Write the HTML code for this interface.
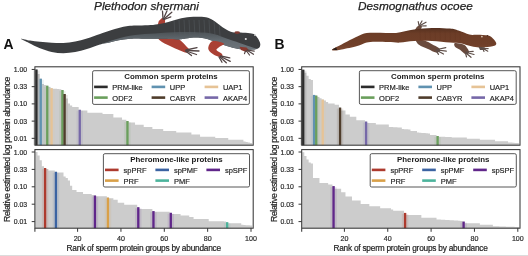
<!DOCTYPE html>
<html><head><meta charset="utf-8"><style>
html,body{margin:0;padding:0;background:#fff;width:528px;height:256px;overflow:hidden;}
svg{display:block;filter:blur(0.5px);font-family:"Liberation Sans",sans-serif;}
</style></head><body><svg width="528" height="256" viewBox="0 0 528 256" font-family="Liberation Sans, sans-serif"><path d="M35.33,145.20 L35.33,69.50 L37.50,69.50 L37.50,74.00 L39.67,74.00 L39.67,78.70 L41.84,78.70 L41.84,84.00 L44.00,84.00 L44.00,85.00 L46.17,85.00 L46.17,85.70 L48.34,85.70 L48.34,87.10 L50.51,87.10 L50.51,88.20 L52.67,88.20 L52.67,88.70 L54.84,88.70 L54.84,88.87 L57.01,88.87 L57.01,89.03 L59.18,89.03 L59.18,89.20 L61.34,89.20 L61.34,90.00 L63.51,90.00 L63.51,94.00 L65.68,94.00 L65.68,98.50 L67.85,98.50 L67.85,103.40 L70.01,103.40 L70.01,105.50 L72.18,105.50 L72.18,107.10 L74.35,107.10 L74.35,107.10 L76.52,107.10 L76.52,107.10 L78.68,107.10 L78.68,109.80 L80.85,109.80 L80.85,110.60 L83.02,110.60 L83.02,110.60 L85.19,110.60 L85.19,110.60 L87.35,110.60 L87.35,112.70 L89.52,112.70 L89.52,112.70 L91.69,112.70 L91.69,112.70 L93.86,112.70 L93.86,112.70 L96.02,112.70 L96.02,112.70 L98.19,112.70 L98.19,112.70 L100.36,112.70 L100.36,112.70 L102.53,112.70 L102.53,114.10 L104.69,114.10 L104.69,114.10 L106.86,114.10 L106.86,114.10 L109.03,114.10 L109.03,114.10 L111.20,114.10 L111.20,114.10 L113.36,114.10 L113.36,117.60 L115.53,117.60 L115.53,117.60 L117.70,117.60 L117.70,117.60 L119.87,117.60 L119.87,117.60 L122.03,117.60 L122.03,119.80 L124.20,119.80 L124.20,119.80 L126.37,119.80 L126.37,121.00 L128.54,121.00 L128.54,122.40 L130.70,122.40 L130.70,122.40 L132.87,122.40 L132.87,122.40 L135.04,122.40 L135.04,124.80 L137.21,124.80 L137.21,124.80 L139.37,124.80 L139.37,124.80 L141.54,124.80 L141.54,124.80 L143.71,124.80 L143.71,126.90 L145.88,126.90 L145.88,126.90 L148.04,126.90 L148.04,126.90 L150.21,126.90 L150.21,126.90 L152.38,126.90 L152.38,129.00 L154.55,129.00 L154.55,129.00 L156.71,129.00 L156.71,129.00 L158.88,129.00 L158.88,129.00 L161.05,129.00 L161.05,129.00 L163.22,129.00 L163.22,131.10 L165.38,131.10 L165.38,131.10 L167.55,131.10 L167.55,131.10 L169.72,131.10 L169.72,131.10 L171.89,131.10 L171.89,131.10 L174.05,131.10 L174.05,131.10 L176.22,131.10 L176.22,132.50 L178.39,132.50 L178.39,132.50 L180.56,132.50 L180.56,132.50 L182.72,132.50 L182.72,132.50 L184.89,132.50 L184.89,132.50 L187.06,132.50 L187.06,132.50 L189.23,132.50 L189.23,132.50 L191.39,132.50 L191.39,134.60 L193.56,134.60 L193.56,134.60 L195.73,134.60 L195.73,134.60 L197.90,134.60 L197.90,134.60 L200.06,134.60 L200.06,136.70 L202.23,136.70 L202.23,136.70 L204.40,136.70 L204.40,136.70 L206.57,136.70 L206.57,136.70 L208.73,136.70 L208.73,136.70 L210.90,136.70 L210.90,136.70 L213.07,136.70 L213.07,136.70 L215.24,136.70 L215.24,138.10 L217.40,138.10 L217.40,138.10 L219.57,138.10 L219.57,138.10 L221.74,138.10 L221.74,138.10 L223.91,138.10 L223.91,138.10 L226.07,138.10 L226.07,138.10 L228.24,138.10 L228.24,139.80 L230.41,139.80 L230.41,139.80 L232.58,139.80 L232.58,139.80 L234.74,139.80 L234.74,139.80 L236.91,139.80 L236.91,139.80 L239.08,139.80 L239.08,139.80 L241.25,139.80 L241.25,139.80 L243.41,139.80 L243.41,141.60 L245.58,141.60 L245.58,142.05 L247.75,142.05 L247.75,142.50 L249.92,142.50 L249.92,143.00 L252.08,143.00 L252.08,145.20 Z" fill="#cccccc"/><rect x="33.22" y="70.50" width="6.4" height="74.70" fill="#2c2c2c" opacity="0.12"/><rect x="37.55" y="79.70" width="6.4" height="65.50" fill="#6092b0" opacity="0.12"/><rect x="44.05" y="86.70" width="6.4" height="58.50" fill="#6a9f5c" opacity="0.12"/><rect x="48.39" y="89.20" width="6.4" height="56.00" fill="#e6c396" opacity="0.12"/><rect x="59.23" y="91.00" width="6.4" height="54.20" fill="#6a9f5c" opacity="0.12"/><rect x="61.39" y="95.00" width="6.4" height="50.20" fill="#4f3d2c" opacity="0.12"/><rect x="76.57" y="110.80" width="6.4" height="34.40" fill="#7668a8" opacity="0.12"/><rect x="124.25" y="122.00" width="6.4" height="23.20" fill="#6a9f5c" opacity="0.12"/><rect x="35.27" y="69.50" width="2.30" height="75.70" fill="#2c2c2c"/><rect x="39.60" y="78.70" width="2.30" height="66.50" fill="#6092b0"/><rect x="46.10" y="85.70" width="2.30" height="59.50" fill="#6a9f5c"/><rect x="50.44" y="88.20" width="2.30" height="57.00" fill="#e6c396"/><rect x="61.28" y="90.00" width="2.30" height="55.20" fill="#6a9f5c"/><rect x="63.45" y="94.00" width="2.30" height="51.20" fill="#4f3d2c"/><rect x="78.62" y="109.80" width="2.30" height="35.40" fill="#7668a8"/><rect x="126.30" y="121.00" width="2.30" height="24.20" fill="#6a9f5c"/><rect x="34.90" y="66.80" width="218.30" height="78.40" fill="none" stroke="#363636" stroke-width="1.05"/><line x1="31.70" y1="69.45" x2="34.90" y2="69.45" stroke="#363636" stroke-width="1"/><text x="27.10" y="71.95" font-size="6.9" text-anchor="end" fill="#2a2a2a" stroke="#2a2a2a" stroke-width="0.18">1.00</text><line x1="31.70" y1="86.67" x2="34.90" y2="86.67" stroke="#363636" stroke-width="1"/><text x="27.10" y="89.17" font-size="6.9" text-anchor="end" fill="#2a2a2a" stroke="#2a2a2a" stroke-width="0.18">0.33</text><line x1="31.70" y1="103.89" x2="34.90" y2="103.89" stroke="#363636" stroke-width="1"/><text x="27.10" y="106.39" font-size="6.9" text-anchor="end" fill="#2a2a2a" stroke="#2a2a2a" stroke-width="0.18">0.10</text><line x1="31.70" y1="121.11" x2="34.90" y2="121.11" stroke="#363636" stroke-width="1"/><text x="27.10" y="123.61" font-size="6.9" text-anchor="end" fill="#2a2a2a" stroke="#2a2a2a" stroke-width="0.18">0.03</text><line x1="31.70" y1="138.33" x2="34.90" y2="138.33" stroke="#363636" stroke-width="1"/><text x="27.10" y="140.83" font-size="6.9" text-anchor="end" fill="#2a2a2a" stroke="#2a2a2a" stroke-width="0.18">0.01</text><rect x="92.60" y="70.70" width="156.80" height="33.70" rx="1.5" fill="#fff" stroke="#444" stroke-width="0.9"/><text x="171.00" y="79.40" font-size="7.9" font-weight="bold" text-anchor="middle" fill="#1a1a1a">Common sperm proteins</text><line x1="94.10" y1="86.90" x2="107.70" y2="86.90" stroke="#2c2c2c" stroke-width="2.6"/><text x="112.30" y="89.80" font-size="7.5" fill="#262626" stroke="#262626" stroke-width="0.18">PRM-like</text><line x1="94.10" y1="97.60" x2="107.70" y2="97.60" stroke="#6a9f5c" stroke-width="2.6"/><text x="112.30" y="100.50" font-size="7.5" fill="#262626" stroke="#262626" stroke-width="0.18">ODF2</text><line x1="151.60" y1="86.90" x2="165.20" y2="86.90" stroke="#6092b0" stroke-width="2.6"/><text x="169.80" y="89.80" font-size="7.5" fill="#262626" stroke="#262626" stroke-width="0.18">UPP</text><line x1="151.60" y1="97.60" x2="165.20" y2="97.60" stroke="#4f3d2c" stroke-width="2.6"/><text x="169.80" y="100.50" font-size="7.5" fill="#262626" stroke="#262626" stroke-width="0.18">CABYR</text><line x1="204.60" y1="86.90" x2="218.20" y2="86.90" stroke="#e6c396" stroke-width="2.6"/><text x="222.90" y="89.80" font-size="7.5" fill="#262626" stroke="#262626" stroke-width="0.18">UAP1</text><line x1="204.60" y1="97.60" x2="218.20" y2="97.60" stroke="#7668a8" stroke-width="2.6"/><text x="222.90" y="100.50" font-size="7.5" fill="#262626" stroke="#262626" stroke-width="0.18">AKAP4</text><path d="M35.33,228.20 L35.33,151.90 L37.50,151.90 L37.50,155.50 L39.67,155.50 L39.67,160.20 L41.84,160.20 L41.84,166.20 L44.00,166.20 L44.00,168.00 L46.17,168.00 L46.17,169.00 L48.34,169.00 L48.34,170.40 L50.51,170.40 L50.51,170.40 L52.67,170.40 L52.67,170.40 L54.84,170.40 L54.84,171.80 L57.01,171.80 L57.01,172.50 L59.18,172.50 L59.18,172.50 L61.34,172.50 L61.34,172.50 L63.51,172.50 L63.51,176.50 L65.68,176.50 L65.68,178.00 L67.85,178.00 L67.85,180.50 L70.01,180.50 L70.01,185.70 L72.18,185.70 L72.18,189.90 L74.35,189.90 L74.35,189.90 L76.52,189.90 L76.52,192.00 L78.68,192.00 L78.68,192.00 L80.85,192.00 L80.85,192.00 L83.02,192.00 L83.02,194.10 L85.19,194.10 L85.19,194.10 L87.35,194.10 L87.35,194.10 L89.52,194.10 L89.52,194.10 L91.69,194.10 L91.69,195.00 L93.86,195.00 L93.86,195.50 L96.02,195.50 L96.02,196.20 L98.19,196.20 L98.19,196.20 L100.36,196.20 L100.36,196.20 L102.53,196.20 L102.53,196.20 L104.69,196.20 L104.69,196.20 L106.86,196.20 L106.86,197.60 L109.03,197.60 L109.03,198.20 L111.20,198.20 L111.20,198.20 L113.36,198.20 L113.36,199.80 L115.53,199.80 L115.53,199.80 L117.70,199.80 L117.70,202.70 L119.87,202.70 L119.87,202.70 L122.03,202.70 L122.03,202.70 L124.20,202.70 L124.20,204.80 L126.37,204.80 L126.37,204.80 L128.54,204.80 L128.54,204.80 L130.70,204.80 L130.70,204.80 L132.87,204.80 L132.87,204.80 L135.04,204.80 L135.04,204.80 L137.21,204.80 L137.21,207.20 L139.37,207.20 L139.37,209.00 L141.54,209.00 L141.54,209.00 L143.71,209.00 L143.71,209.00 L145.88,209.00 L145.88,209.00 L148.04,209.00 L148.04,209.00 L150.21,209.00 L150.21,209.00 L152.38,209.00 L152.38,211.10 L154.55,211.10 L154.55,211.80 L156.71,211.80 L156.71,211.80 L158.88,211.80 L158.88,211.80 L161.05,211.80 L161.05,211.80 L163.22,211.80 L163.22,211.80 L165.38,211.80 L165.38,211.80 L167.55,211.80 L167.55,211.80 L169.72,211.80 L169.72,212.80 L171.89,212.80 L171.89,213.90 L174.05,213.90 L174.05,213.90 L176.22,213.90 L176.22,213.90 L178.39,213.90 L178.39,213.90 L180.56,213.90 L180.56,215.40 L182.72,215.40 L182.72,215.40 L184.89,215.40 L184.89,215.40 L187.06,215.40 L187.06,215.40 L189.23,215.40 L189.23,216.90 L191.39,216.90 L191.39,216.90 L193.56,216.90 L193.56,219.00 L195.73,219.00 L195.73,219.00 L197.90,219.00 L197.90,219.00 L200.06,219.00 L200.06,219.00 L202.23,219.00 L202.23,219.00 L204.40,219.00 L204.40,219.00 L206.57,219.00 L206.57,219.00 L208.73,219.00 L208.73,221.20 L210.90,221.20 L210.90,221.20 L213.07,221.20 L213.07,221.20 L215.24,221.20 L215.24,221.20 L217.40,221.20 L217.40,221.20 L219.57,221.20 L219.57,221.20 L221.74,221.20 L221.74,221.20 L223.91,221.20 L223.91,221.50 L226.07,221.50 L226.07,222.20 L228.24,222.20 L228.24,223.30 L230.41,223.30 L230.41,223.30 L232.58,223.30 L232.58,223.30 L234.74,223.30 L234.74,223.30 L236.91,223.30 L236.91,223.30 L239.08,223.30 L239.08,223.30 L241.25,223.30 L241.25,224.80 L243.41,224.80 L243.41,224.98 L245.58,224.98 L245.58,225.15 L247.75,225.15 L247.75,225.32 L249.92,225.32 L249.92,225.50 L252.08,225.50 L252.08,228.20 Z" fill="#cccccc"/><rect x="41.89" y="169.00" width="6.4" height="59.20" fill="#ad3a2e" opacity="0.12"/><rect x="52.72" y="172.80" width="6.4" height="55.40" fill="#3b63a2" opacity="0.12"/><rect x="91.74" y="196.50" width="6.4" height="31.70" fill="#60268a" opacity="0.12"/><rect x="104.74" y="198.60" width="6.4" height="29.60" fill="#d9a048" opacity="0.12"/><rect x="135.09" y="208.20" width="6.4" height="20.00" fill="#60268a" opacity="0.12"/><rect x="150.26" y="212.10" width="6.4" height="16.10" fill="#60268a" opacity="0.12"/><rect x="167.60" y="213.80" width="6.4" height="14.40" fill="#60268a" opacity="0.12"/><rect x="223.96" y="223.20" width="6.4" height="5.00" fill="#4cb49c" opacity="0.12"/><rect x="43.94" y="168.00" width="2.30" height="60.20" fill="#ad3a2e"/><rect x="54.77" y="171.80" width="2.30" height="56.40" fill="#3b63a2"/><rect x="93.79" y="195.50" width="2.30" height="32.70" fill="#60268a"/><rect x="106.79" y="197.60" width="2.30" height="30.60" fill="#d9a048"/><rect x="137.14" y="207.20" width="2.30" height="21.00" fill="#60268a"/><rect x="152.31" y="211.10" width="2.30" height="17.10" fill="#60268a"/><rect x="169.65" y="212.80" width="2.30" height="15.40" fill="#60268a"/><rect x="226.01" y="222.20" width="2.30" height="6.00" fill="#4cb49c"/><rect x="34.90" y="149.60" width="218.30" height="78.60" fill="none" stroke="#363636" stroke-width="1.05"/><line x1="31.70" y1="152.00" x2="34.90" y2="152.00" stroke="#363636" stroke-width="1"/><text x="27.10" y="154.50" font-size="6.9" text-anchor="end" fill="#2a2a2a" stroke="#2a2a2a" stroke-width="0.18">1.00</text><line x1="31.70" y1="169.40" x2="34.90" y2="169.40" stroke="#363636" stroke-width="1"/><text x="27.10" y="171.90" font-size="6.9" text-anchor="end" fill="#2a2a2a" stroke="#2a2a2a" stroke-width="0.18">0.33</text><line x1="31.70" y1="186.80" x2="34.90" y2="186.80" stroke="#363636" stroke-width="1"/><text x="27.10" y="189.30" font-size="6.9" text-anchor="end" fill="#2a2a2a" stroke="#2a2a2a" stroke-width="0.18">0.10</text><line x1="31.70" y1="204.20" x2="34.90" y2="204.20" stroke="#363636" stroke-width="1"/><text x="27.10" y="206.70" font-size="6.9" text-anchor="end" fill="#2a2a2a" stroke="#2a2a2a" stroke-width="0.18">0.03</text><line x1="31.70" y1="221.60" x2="34.90" y2="221.60" stroke="#363636" stroke-width="1"/><text x="27.10" y="224.10" font-size="6.9" text-anchor="end" fill="#2a2a2a" stroke="#2a2a2a" stroke-width="0.18">0.01</text><line x1="34.90" y1="228.20" x2="34.90" y2="231.70" stroke="#363636" stroke-width="1.05"/><line x1="77.60" y1="228.20" x2="77.60" y2="231.80" stroke="#363636" stroke-width="1"/><text x="77.60" y="240.80" font-size="7.1" text-anchor="middle" fill="#2a2a2a" stroke="#2a2a2a" stroke-width="0.18">20</text><line x1="120.95" y1="228.20" x2="120.95" y2="231.80" stroke="#363636" stroke-width="1"/><text x="120.95" y="240.80" font-size="7.1" text-anchor="middle" fill="#2a2a2a" stroke="#2a2a2a" stroke-width="0.18">40</text><line x1="164.30" y1="228.20" x2="164.30" y2="231.80" stroke="#363636" stroke-width="1"/><text x="164.30" y="240.80" font-size="7.1" text-anchor="middle" fill="#2a2a2a" stroke="#2a2a2a" stroke-width="0.18">60</text><line x1="207.65" y1="228.20" x2="207.65" y2="231.80" stroke="#363636" stroke-width="1"/><text x="207.65" y="240.80" font-size="7.1" text-anchor="middle" fill="#2a2a2a" stroke="#2a2a2a" stroke-width="0.18">80</text><line x1="251.00" y1="228.20" x2="251.00" y2="231.80" stroke="#363636" stroke-width="1"/><text x="251.00" y="240.80" font-size="7.1" text-anchor="middle" fill="#2a2a2a" stroke="#2a2a2a" stroke-width="0.18">100</text><rect x="103.40" y="153.70" width="146.10" height="33.30" rx="1.5" fill="#fff" stroke="#444" stroke-width="0.9"/><text x="176.45" y="162.40" font-size="7.9" font-weight="bold" text-anchor="middle" fill="#1a1a1a">Pheromone-like proteins</text><line x1="105.00" y1="169.90" x2="118.60" y2="169.90" stroke="#ad3a2e" stroke-width="2.6"/><text x="123.60" y="172.80" font-size="7.5" fill="#262626" stroke="#262626" stroke-width="0.18">spPRF</text><line x1="105.00" y1="180.60" x2="118.60" y2="180.60" stroke="#d9a048" stroke-width="2.6"/><text x="123.60" y="183.50" font-size="7.5" fill="#262626" stroke="#262626" stroke-width="0.18">PRF</text><line x1="155.40" y1="169.90" x2="169.00" y2="169.90" stroke="#3b63a2" stroke-width="2.6"/><text x="173.90" y="172.80" font-size="7.5" fill="#262626" stroke="#262626" stroke-width="0.18">spPMF</text><line x1="155.40" y1="180.60" x2="169.00" y2="180.60" stroke="#4cb49c" stroke-width="2.6"/><text x="173.90" y="183.50" font-size="7.5" fill="#262626" stroke="#262626" stroke-width="0.18">PMF</text><line x1="206.40" y1="169.90" x2="220.00" y2="169.90" stroke="#60268a" stroke-width="2.6"/><text x="224.90" y="172.80" font-size="7.5" fill="#262626" stroke="#262626" stroke-width="0.18">spSPF</text><text x="66.60" y="251.1" font-size="8.3" textLength="154.5" lengthAdjust="spacing" fill="#222" stroke="#222" stroke-width="0.2">Rank of sperm protein groups by abundance</text><text transform="translate(10.00,222.0) rotate(-90)" font-size="8.7" textLength="145.4" lengthAdjust="spacing" fill="#222" stroke="#222" stroke-width="0.2">Relative estimated log protein abundance</text><path d="M302.13,145.20 L302.13,69.70 L304.30,69.70 L304.30,72.80 L306.47,72.80 L306.47,75.80 L308.64,75.80 L308.64,79.00 L310.80,79.00 L310.80,80.00 L312.97,80.00 L312.97,94.90 L315.14,94.90 L315.14,95.60 L317.31,95.60 L317.31,97.00 L319.47,97.00 L319.47,98.20 L321.64,98.20 L321.64,99.60 L323.81,99.60 L323.81,100.50 L325.98,100.50 L325.98,102.00 L328.14,102.00 L328.14,103.40 L330.31,103.40 L330.31,103.40 L332.48,103.40 L332.48,103.40 L334.65,103.40 L334.65,104.80 L336.81,104.80 L336.81,104.80 L338.98,104.80 L338.98,107.60 L341.15,107.60 L341.15,110.40 L343.32,110.40 L343.32,110.40 L345.48,110.40 L345.48,114.60 L347.65,114.60 L347.65,114.60 L349.82,114.60 L349.82,116.70 L351.99,116.70 L351.99,116.70 L354.15,116.70 L354.15,116.70 L356.32,116.70 L356.32,120.20 L358.49,120.20 L358.49,120.20 L360.66,120.20 L360.66,120.20 L362.82,120.20 L362.82,120.20 L364.99,120.20 L364.99,121.60 L367.16,121.60 L367.16,123.00 L369.33,123.00 L369.33,123.00 L371.49,123.00 L371.49,123.00 L373.66,123.00 L373.66,123.00 L375.83,123.00 L375.83,124.50 L378.00,124.50 L378.00,124.50 L380.16,124.50 L380.16,124.50 L382.33,124.50 L382.33,124.50 L384.50,124.50 L384.50,124.50 L386.67,124.50 L386.67,124.50 L388.83,124.50 L388.83,126.90 L391.00,126.90 L391.00,127.02 L393.17,127.02 L393.17,127.14 L395.34,127.14 L395.34,127.26 L397.50,127.26 L397.50,127.38 L399.67,127.38 L399.67,127.50 L401.84,127.50 L401.84,129.00 L404.01,129.00 L404.01,129.17 L406.17,129.17 L406.17,129.33 L408.34,129.33 L408.34,129.50 L410.51,129.50 L410.51,131.00 L412.68,131.00 L412.68,131.00 L414.84,131.00 L414.84,131.00 L417.01,131.00 L417.01,132.50 L419.18,132.50 L419.18,132.70 L421.35,132.70 L421.35,132.90 L423.51,132.90 L423.51,133.10 L425.68,133.10 L425.68,133.30 L427.85,133.30 L427.85,133.50 L430.02,133.50 L430.02,135.00 L432.18,135.00 L432.18,135.00 L434.35,135.00 L434.35,135.00 L436.52,135.00 L436.52,136.00 L438.69,136.00 L438.69,136.70 L440.85,136.70 L440.85,136.76 L443.02,136.76 L443.02,136.82 L445.19,136.82 L445.19,136.88 L447.36,136.88 L447.36,136.94 L449.52,136.94 L449.52,137.00 L451.69,137.00 L451.69,137.40 L453.86,137.40 L453.86,137.40 L456.03,137.40 L456.03,137.40 L458.19,137.40 L458.19,137.40 L460.36,137.40 L460.36,137.40 L462.53,137.40 L462.53,137.40 L464.70,137.40 L464.70,137.40 L466.86,137.40 L466.86,138.80 L469.03,138.80 L469.03,138.80 L471.20,138.80 L471.20,138.80 L473.37,138.80 L473.37,138.80 L475.53,138.80 L475.53,138.80 L477.70,138.80 L477.70,138.80 L479.87,138.80 L479.87,139.80 L482.04,139.80 L482.04,139.80 L484.20,139.80 L484.20,139.80 L486.37,139.80 L486.37,139.80 L488.54,139.80 L488.54,139.80 L490.71,139.80 L490.71,139.80 L492.87,139.80 L492.87,139.80 L495.04,139.80 L495.04,141.20 L497.21,141.20 L497.21,141.20 L499.38,141.20 L499.38,141.20 L501.54,141.20 L501.54,141.20 L503.71,141.20 L503.71,141.20 L505.88,141.20 L505.88,141.20 L508.05,141.20 L508.05,142.50 L510.21,142.50 L510.21,142.62 L512.38,142.62 L512.38,142.75 L514.55,142.75 L514.55,142.88 L516.72,142.88 L516.72,143.00 L518.88,143.00 L518.88,145.20 Z" fill="#cccccc"/><rect x="300.02" y="70.70" width="6.4" height="74.50" fill="#2c2c2c" opacity="0.12"/><rect x="310.86" y="95.90" width="6.4" height="49.30" fill="#6092b0" opacity="0.12"/><rect x="313.02" y="96.60" width="6.4" height="48.60" fill="#6a9f5c" opacity="0.12"/><rect x="319.53" y="100.60" width="6.4" height="44.60" fill="#e6c396" opacity="0.12"/><rect x="336.87" y="108.60" width="6.4" height="36.60" fill="#4f3d2c" opacity="0.12"/><rect x="362.88" y="122.60" width="6.4" height="22.60" fill="#7668a8" opacity="0.12"/><rect x="434.40" y="137.00" width="6.4" height="8.20" fill="#6a9f5c" opacity="0.12"/><rect x="302.07" y="69.70" width="2.30" height="75.50" fill="#2c2c2c"/><rect x="312.91" y="94.90" width="2.30" height="50.30" fill="#6092b0"/><rect x="315.07" y="95.60" width="2.30" height="49.60" fill="#6a9f5c"/><rect x="321.58" y="99.60" width="2.30" height="45.60" fill="#e6c396"/><rect x="338.92" y="107.60" width="2.30" height="37.60" fill="#4f3d2c"/><rect x="364.93" y="121.60" width="2.30" height="23.60" fill="#7668a8"/><rect x="436.45" y="136.00" width="2.30" height="9.20" fill="#6a9f5c"/><rect x="301.70" y="66.80" width="218.30" height="78.40" fill="none" stroke="#363636" stroke-width="1.05"/><line x1="298.50" y1="69.45" x2="301.70" y2="69.45" stroke="#363636" stroke-width="1"/><text x="293.90" y="71.95" font-size="6.9" text-anchor="end" fill="#2a2a2a" stroke="#2a2a2a" stroke-width="0.18">1.00</text><line x1="298.50" y1="86.67" x2="301.70" y2="86.67" stroke="#363636" stroke-width="1"/><text x="293.90" y="89.17" font-size="6.9" text-anchor="end" fill="#2a2a2a" stroke="#2a2a2a" stroke-width="0.18">0.33</text><line x1="298.50" y1="103.89" x2="301.70" y2="103.89" stroke="#363636" stroke-width="1"/><text x="293.90" y="106.39" font-size="6.9" text-anchor="end" fill="#2a2a2a" stroke="#2a2a2a" stroke-width="0.18">0.10</text><line x1="298.50" y1="121.11" x2="301.70" y2="121.11" stroke="#363636" stroke-width="1"/><text x="293.90" y="123.61" font-size="6.9" text-anchor="end" fill="#2a2a2a" stroke="#2a2a2a" stroke-width="0.18">0.03</text><line x1="298.50" y1="138.33" x2="301.70" y2="138.33" stroke="#363636" stroke-width="1"/><text x="293.90" y="140.83" font-size="6.9" text-anchor="end" fill="#2a2a2a" stroke="#2a2a2a" stroke-width="0.18">0.01</text><rect x="359.40" y="70.70" width="156.80" height="33.70" rx="1.5" fill="#fff" stroke="#444" stroke-width="0.9"/><text x="437.80" y="79.40" font-size="7.9" font-weight="bold" text-anchor="middle" fill="#1a1a1a">Common sperm proteins</text><line x1="360.90" y1="86.90" x2="374.50" y2="86.90" stroke="#2c2c2c" stroke-width="2.6"/><text x="379.10" y="89.80" font-size="7.5" fill="#262626" stroke="#262626" stroke-width="0.18">PRM-like</text><line x1="360.90" y1="97.60" x2="374.50" y2="97.60" stroke="#6a9f5c" stroke-width="2.6"/><text x="379.10" y="100.50" font-size="7.5" fill="#262626" stroke="#262626" stroke-width="0.18">ODF2</text><line x1="418.40" y1="86.90" x2="432.00" y2="86.90" stroke="#6092b0" stroke-width="2.6"/><text x="436.60" y="89.80" font-size="7.5" fill="#262626" stroke="#262626" stroke-width="0.18">UPP</text><line x1="418.40" y1="97.60" x2="432.00" y2="97.60" stroke="#4f3d2c" stroke-width="2.6"/><text x="436.60" y="100.50" font-size="7.5" fill="#262626" stroke="#262626" stroke-width="0.18">CABYR</text><line x1="471.40" y1="86.90" x2="485.00" y2="86.90" stroke="#e6c396" stroke-width="2.6"/><text x="489.70" y="89.80" font-size="7.5" fill="#262626" stroke="#262626" stroke-width="0.18">UAP1</text><line x1="471.40" y1="97.60" x2="485.00" y2="97.60" stroke="#7668a8" stroke-width="2.6"/><text x="489.70" y="100.50" font-size="7.5" fill="#262626" stroke="#262626" stroke-width="0.18">AKAP4</text><path d="M302.13,228.20 L302.13,152.20 L304.30,152.20 L304.30,156.00 L306.47,156.00 L306.47,159.50 L308.64,159.50 L308.64,162.50 L310.80,162.50 L310.80,163.40 L312.97,163.40 L312.97,178.00 L315.14,178.00 L315.14,178.00 L317.31,178.00 L317.31,178.00 L319.47,178.00 L319.47,183.00 L321.64,183.00 L321.64,183.00 L323.81,183.00 L323.81,183.00 L325.98,183.00 L325.98,183.00 L328.14,183.00 L328.14,184.40 L330.31,184.40 L330.31,184.40 L332.48,184.40 L332.48,186.10 L334.65,186.10 L334.65,188.70 L336.81,188.70 L336.81,188.70 L338.98,188.70 L338.98,188.70 L341.15,188.70 L341.15,192.20 L343.32,192.20 L343.32,192.20 L345.48,192.20 L345.48,196.40 L347.65,196.40 L347.65,196.40 L349.82,196.40 L349.82,196.40 L351.99,196.40 L351.99,200.60 L354.15,200.60 L354.15,200.60 L356.32,200.60 L356.32,200.60 L358.49,200.60 L358.49,200.60 L360.66,200.60 L360.66,204.10 L362.82,204.10 L362.82,204.10 L364.99,204.10 L364.99,204.10 L367.16,204.10 L367.16,204.10 L369.33,204.10 L369.33,206.20 L371.49,206.20 L371.49,206.20 L373.66,206.20 L373.66,206.20 L375.83,206.20 L375.83,206.20 L378.00,206.20 L378.00,206.20 L380.16,206.20 L380.16,208.30 L382.33,208.30 L382.33,208.30 L384.50,208.30 L384.50,208.30 L386.67,208.30 L386.67,208.30 L388.83,208.30 L388.83,208.30 L391.00,208.30 L391.00,209.40 L393.17,209.40 L393.17,210.80 L395.34,210.80 L395.34,210.80 L397.50,210.80 L397.50,210.80 L399.67,210.80 L399.67,210.80 L401.84,210.80 L401.84,210.80 L404.01,210.80 L404.01,212.90 L406.17,212.90 L406.17,215.00 L408.34,215.00 L408.34,215.00 L410.51,215.00 L410.51,215.00 L412.68,215.00 L412.68,215.00 L414.84,215.00 L414.84,215.00 L417.01,215.00 L417.01,215.00 L419.18,215.00 L419.18,215.00 L421.35,215.00 L421.35,217.80 L423.51,217.80 L423.51,217.80 L425.68,217.80 L425.68,217.80 L427.85,217.80 L427.85,217.80 L430.02,217.80 L430.02,217.80 L432.18,217.80 L432.18,217.80 L434.35,217.80 L434.35,217.80 L436.52,217.80 L436.52,219.50 L438.69,219.50 L438.69,219.62 L440.85,219.62 L440.85,219.74 L443.02,219.74 L443.02,219.86 L445.19,219.86 L445.19,219.98 L447.36,219.98 L447.36,220.10 L449.52,220.10 L449.52,220.22 L451.69,220.22 L451.69,220.34 L453.86,220.34 L453.86,220.46 L456.03,220.46 L456.03,220.58 L458.19,220.58 L458.19,220.70 L460.36,220.70 L460.36,220.90 L462.53,220.90 L462.53,221.60 L464.70,221.60 L464.70,223.30 L466.86,223.30 L466.86,223.30 L469.03,223.30 L469.03,223.30 L471.20,223.30 L471.20,223.30 L473.37,223.30 L473.37,223.30 L475.53,223.30 L475.53,223.30 L477.70,223.30 L477.70,223.30 L479.87,223.30 L479.87,224.80 L482.04,224.80 L482.04,224.80 L484.20,224.80 L484.20,224.80 L486.37,224.80 L486.37,224.80 L488.54,224.80 L488.54,224.80 L490.71,224.80 L490.71,224.80 L492.87,224.80 L492.87,226.20 L495.04,226.20 L495.04,226.27 L497.21,226.27 L497.21,226.35 L499.38,226.35 L499.38,226.42 L501.54,226.42 L501.54,226.49 L503.71,226.49 L503.71,226.56 L505.88,226.56 L505.88,226.64 L508.05,226.64 L508.05,226.71 L510.21,226.71 L510.21,226.78 L512.38,226.78 L512.38,226.85 L514.55,226.85 L514.55,226.93 L516.72,226.93 L516.72,227.00 L518.88,227.00 L518.88,228.20 Z" fill="#cccccc"/><rect x="330.36" y="187.10" width="6.4" height="41.10" fill="#60268a" opacity="0.12"/><rect x="401.89" y="213.90" width="6.4" height="14.30" fill="#ad3a2e" opacity="0.12"/><rect x="460.41" y="222.60" width="6.4" height="5.60" fill="#60268a" opacity="0.12"/><rect x="332.41" y="186.10" width="2.30" height="42.10" fill="#60268a"/><rect x="403.94" y="212.90" width="2.30" height="15.30" fill="#ad3a2e"/><rect x="462.46" y="221.60" width="2.30" height="6.60" fill="#60268a"/><rect x="301.70" y="149.60" width="218.30" height="78.60" fill="none" stroke="#363636" stroke-width="1.05"/><line x1="298.50" y1="152.00" x2="301.70" y2="152.00" stroke="#363636" stroke-width="1"/><text x="293.90" y="154.50" font-size="6.9" text-anchor="end" fill="#2a2a2a" stroke="#2a2a2a" stroke-width="0.18">1.00</text><line x1="298.50" y1="169.40" x2="301.70" y2="169.40" stroke="#363636" stroke-width="1"/><text x="293.90" y="171.90" font-size="6.9" text-anchor="end" fill="#2a2a2a" stroke="#2a2a2a" stroke-width="0.18">0.33</text><line x1="298.50" y1="186.80" x2="301.70" y2="186.80" stroke="#363636" stroke-width="1"/><text x="293.90" y="189.30" font-size="6.9" text-anchor="end" fill="#2a2a2a" stroke="#2a2a2a" stroke-width="0.18">0.10</text><line x1="298.50" y1="204.20" x2="301.70" y2="204.20" stroke="#363636" stroke-width="1"/><text x="293.90" y="206.70" font-size="6.9" text-anchor="end" fill="#2a2a2a" stroke="#2a2a2a" stroke-width="0.18">0.03</text><line x1="298.50" y1="221.60" x2="301.70" y2="221.60" stroke="#363636" stroke-width="1"/><text x="293.90" y="224.10" font-size="6.9" text-anchor="end" fill="#2a2a2a" stroke="#2a2a2a" stroke-width="0.18">0.01</text><line x1="301.70" y1="228.20" x2="301.70" y2="231.70" stroke="#363636" stroke-width="1.05"/><line x1="344.40" y1="228.20" x2="344.40" y2="231.80" stroke="#363636" stroke-width="1"/><text x="344.40" y="240.80" font-size="7.1" text-anchor="middle" fill="#2a2a2a" stroke="#2a2a2a" stroke-width="0.18">20</text><line x1="387.75" y1="228.20" x2="387.75" y2="231.80" stroke="#363636" stroke-width="1"/><text x="387.75" y="240.80" font-size="7.1" text-anchor="middle" fill="#2a2a2a" stroke="#2a2a2a" stroke-width="0.18">40</text><line x1="431.10" y1="228.20" x2="431.10" y2="231.80" stroke="#363636" stroke-width="1"/><text x="431.10" y="240.80" font-size="7.1" text-anchor="middle" fill="#2a2a2a" stroke="#2a2a2a" stroke-width="0.18">60</text><line x1="474.45" y1="228.20" x2="474.45" y2="231.80" stroke="#363636" stroke-width="1"/><text x="474.45" y="240.80" font-size="7.1" text-anchor="middle" fill="#2a2a2a" stroke="#2a2a2a" stroke-width="0.18">80</text><line x1="517.80" y1="228.20" x2="517.80" y2="231.80" stroke="#363636" stroke-width="1"/><text x="517.80" y="240.80" font-size="7.1" text-anchor="middle" fill="#2a2a2a" stroke="#2a2a2a" stroke-width="0.18">100</text><rect x="370.20" y="153.70" width="146.10" height="33.30" rx="1.5" fill="#fff" stroke="#444" stroke-width="0.9"/><text x="443.25" y="162.40" font-size="7.9" font-weight="bold" text-anchor="middle" fill="#1a1a1a">Pheromone-like proteins</text><line x1="371.80" y1="169.90" x2="385.40" y2="169.90" stroke="#ad3a2e" stroke-width="2.6"/><text x="390.40" y="172.80" font-size="7.5" fill="#262626" stroke="#262626" stroke-width="0.18">spPRF</text><line x1="371.80" y1="180.60" x2="385.40" y2="180.60" stroke="#d9a048" stroke-width="2.6"/><text x="390.40" y="183.50" font-size="7.5" fill="#262626" stroke="#262626" stroke-width="0.18">PRF</text><line x1="422.20" y1="169.90" x2="435.80" y2="169.90" stroke="#3b63a2" stroke-width="2.6"/><text x="440.70" y="172.80" font-size="7.5" fill="#262626" stroke="#262626" stroke-width="0.18">spPMF</text><line x1="422.20" y1="180.60" x2="435.80" y2="180.60" stroke="#4cb49c" stroke-width="2.6"/><text x="440.70" y="183.50" font-size="7.5" fill="#262626" stroke="#262626" stroke-width="0.18">PMF</text><line x1="473.20" y1="169.90" x2="486.80" y2="169.90" stroke="#60268a" stroke-width="2.6"/><text x="491.70" y="172.80" font-size="7.5" fill="#262626" stroke="#262626" stroke-width="0.18">spSPF</text><text x="333.40" y="251.1" font-size="8.3" textLength="154.5" lengthAdjust="spacing" fill="#222" stroke="#222" stroke-width="0.2">Rank of sperm protein groups by abundance</text><text transform="translate(276.80,222.0) rotate(-90)" font-size="8.7" textLength="145.4" lengthAdjust="spacing" fill="#222" stroke="#222" stroke-width="0.2">Relative estimated log protein abundance</text><text x="3.4" y="48.6" font-size="13.9" font-weight="bold" fill="#111">A</text><text x="274.6" y="48.6" font-size="13.9" font-weight="bold" fill="#111">B</text><text x="146.5" y="9.9" font-size="11.8" font-style="italic" text-anchor="middle" fill="#222" stroke="#222" stroke-width="0.25">Plethodon shermani</text><text x="415.4" y="10" font-size="11.8" font-style="italic" text-anchor="middle" fill="#222" stroke="#222" stroke-width="0.25">Desmognathus ocoee</text><defs><clipPath id="b1"><path d="M21.00,38.80 C21.17,38.40 26.83,40.10 30.00,40.60 C33.17,41.10 36.38,41.45 40.00,41.80 C43.62,42.15 47.80,42.50 51.70,42.70 C55.60,42.90 59.48,43.20 63.40,43.00 C67.32,42.80 71.28,42.25 75.20,41.50 C79.12,40.75 82.77,39.75 86.90,38.50 C91.03,37.25 96.25,35.28 100.00,34.00 C103.75,32.72 106.28,31.80 109.40,30.80 C112.52,29.80 115.60,28.78 118.70,28.00 C121.80,27.22 125.12,26.52 128.00,26.10 C130.88,25.68 132.67,25.63 136.00,25.50 C139.33,25.37 144.33,25.50 148.00,25.30 C151.67,25.10 154.62,24.85 158.00,24.30 C161.38,23.75 164.88,22.88 168.30,22.00 C171.72,21.12 174.88,19.82 178.50,19.00 C182.12,18.18 186.50,17.47 190.00,17.10 C193.50,16.73 196.50,16.68 199.50,16.80 C202.50,16.92 205.42,17.02 208.00,17.80 C210.58,18.58 212.17,19.67 215.00,21.50 C217.83,23.33 222.05,27.00 225.00,28.80 C227.95,30.60 230.12,31.67 232.70,32.30 C235.28,32.93 237.62,32.43 240.50,32.60 C243.38,32.77 247.62,32.93 250.00,33.30 C252.38,33.67 253.33,33.68 254.80,34.80 C256.27,35.92 257.88,38.33 258.80,40.00 C259.72,41.67 260.43,43.37 260.30,44.80 C260.17,46.23 259.72,47.77 258.00,48.60 C256.28,49.43 253.23,49.73 250.00,49.80 C246.77,49.87 242.45,49.63 238.60,49.00 C234.75,48.37 230.80,47.22 226.90,46.00 C223.00,44.78 217.75,42.62 215.20,41.70 C212.65,40.78 213.47,41.07 211.60,40.50 C209.73,39.93 206.60,38.80 204.00,38.30 C201.40,37.80 199.08,37.48 196.00,37.50 C192.92,37.52 188.55,38.08 185.50,38.40 C182.45,38.72 181.95,39.33 177.70,39.40 C173.45,39.47 164.95,38.90 160.00,38.80 C155.05,38.70 152.00,38.87 148.00,38.80 C144.00,38.73 139.33,38.38 136.00,38.40 C132.67,38.42 130.88,38.58 128.00,38.90 C125.12,39.22 121.80,39.68 118.70,40.30 C115.60,40.92 112.52,41.88 109.40,42.60 C106.28,43.32 103.75,43.52 100.00,44.60 C96.25,45.68 91.03,47.87 86.90,49.10 C82.77,50.33 79.12,51.32 75.20,52.00 C71.28,52.68 67.32,53.20 63.40,53.20 C59.48,53.20 55.60,52.82 51.70,52.00 C47.80,51.18 43.78,49.80 40.00,48.30 C36.22,46.80 32.17,44.58 29.00,43.00 C25.83,41.42 20.83,39.20 21.00,38.80 Z"/></clipPath></defs><path d="M157.5,25.5 L158.8,21 L162,18 L165.2,18.6 L165,22 L164.5,25.8 Z" fill="#aa4034"/><line x1="163.00" y1="19.00" x2="162.50" y2="11.20" stroke="#524444" stroke-width="1.3" stroke-linecap="round"/><line x1="163.50" y1="18.80" x2="167.00" y2="10.80" stroke="#524444" stroke-width="1.3" stroke-linecap="round"/><line x1="164.00" y1="19.00" x2="171.80" y2="12.20" stroke="#524444" stroke-width="1.3" stroke-linecap="round"/><line x1="164.00" y1="19.50" x2="170.80" y2="16.80" stroke="#524444" stroke-width="1.3" stroke-linecap="round"/><path d="M157.00,33.50 C159.00,32.68 168.17,34.52 172.00,35.60 C175.83,36.68 177.67,38.27 180.00,40.00 C182.33,41.73 184.42,44.33 186.00,46.00 C187.58,47.67 189.42,48.87 189.50,50.00 C189.58,51.13 188.08,52.72 186.50,52.80 C184.92,52.88 182.75,51.63 180.00,50.50 C177.25,49.37 173.33,47.67 170.00,46.00 C166.67,44.33 162.17,42.58 160.00,40.50 C157.83,38.42 155.00,34.32 157.00,33.50 Z" fill="#aa4034"/><line x1="186.00" y1="50.00" x2="197.00" y2="47.60" stroke="#524444" stroke-width="1.3" stroke-linecap="round"/><line x1="186.50" y1="50.50" x2="199.00" y2="51.00" stroke="#524444" stroke-width="1.3" stroke-linecap="round"/><line x1="186.00" y1="51.00" x2="196.50" y2="54.50" stroke="#524444" stroke-width="1.3" stroke-linecap="round"/><line x1="185.50" y1="51.00" x2="191.50" y2="55.50" stroke="#524444" stroke-width="1.3" stroke-linecap="round"/><path d="M21.00,38.80 C21.17,38.40 26.83,40.10 30.00,40.60 C33.17,41.10 36.38,41.45 40.00,41.80 C43.62,42.15 47.80,42.50 51.70,42.70 C55.60,42.90 59.48,43.20 63.40,43.00 C67.32,42.80 71.28,42.25 75.20,41.50 C79.12,40.75 82.77,39.75 86.90,38.50 C91.03,37.25 96.25,35.28 100.00,34.00 C103.75,32.72 106.28,31.80 109.40,30.80 C112.52,29.80 115.60,28.78 118.70,28.00 C121.80,27.22 125.12,26.52 128.00,26.10 C130.88,25.68 132.67,25.63 136.00,25.50 C139.33,25.37 144.33,25.50 148.00,25.30 C151.67,25.10 154.62,24.85 158.00,24.30 C161.38,23.75 164.88,22.88 168.30,22.00 C171.72,21.12 174.88,19.82 178.50,19.00 C182.12,18.18 186.50,17.47 190.00,17.10 C193.50,16.73 196.50,16.68 199.50,16.80 C202.50,16.92 205.42,17.02 208.00,17.80 C210.58,18.58 212.17,19.67 215.00,21.50 C217.83,23.33 222.05,27.00 225.00,28.80 C227.95,30.60 230.12,31.67 232.70,32.30 C235.28,32.93 237.62,32.43 240.50,32.60 C243.38,32.77 247.62,32.93 250.00,33.30 C252.38,33.67 253.33,33.68 254.80,34.80 C256.27,35.92 257.88,38.33 258.80,40.00 C259.72,41.67 260.43,43.37 260.30,44.80 C260.17,46.23 259.72,47.77 258.00,48.60 C256.28,49.43 253.23,49.73 250.00,49.80 C246.77,49.87 242.45,49.63 238.60,49.00 C234.75,48.37 230.80,47.22 226.90,46.00 C223.00,44.78 217.75,42.62 215.20,41.70 C212.65,40.78 213.47,41.07 211.60,40.50 C209.73,39.93 206.60,38.80 204.00,38.30 C201.40,37.80 199.08,37.48 196.00,37.50 C192.92,37.52 188.55,38.08 185.50,38.40 C182.45,38.72 181.95,39.33 177.70,39.40 C173.45,39.47 164.95,38.90 160.00,38.80 C155.05,38.70 152.00,38.87 148.00,38.80 C144.00,38.73 139.33,38.38 136.00,38.40 C132.67,38.42 130.88,38.58 128.00,38.90 C125.12,39.22 121.80,39.68 118.70,40.30 C115.60,40.92 112.52,41.88 109.40,42.60 C106.28,43.32 103.75,43.52 100.00,44.60 C96.25,45.68 91.03,47.87 86.90,49.10 C82.77,50.33 79.12,51.32 75.20,52.00 C71.28,52.68 67.32,53.20 63.40,53.20 C59.48,53.20 55.60,52.82 51.70,52.00 C47.80,51.18 43.78,49.80 40.00,48.30 C36.22,46.80 32.17,44.58 29.00,43.00 C25.83,41.42 20.83,39.20 21.00,38.80 Z" fill="#3c3e40"/><defs><linearGradient id="bg1" x1="0" y1="0" x2="0" y2="1"><stop offset="0" stop-color="#4c5256"/><stop offset="0.35" stop-color="#646c72"/><stop offset="1" stop-color="#727a80"/></linearGradient></defs><g clip-path="url(#b1)"><path d="M95.00,47.50 C98.33,44.75 108.33,41.58 115.00,39.50 C121.67,37.42 128.33,36.00 135.00,35.00 C141.67,34.00 147.50,34.00 155.00,33.50 C162.50,33.00 170.83,32.05 180.00,32.00 C189.17,31.95 202.00,32.03 210.00,33.20 C218.00,34.37 222.33,37.12 228.00,39.00 C233.67,40.88 239.33,42.92 244.00,44.50 C248.67,46.08 253.00,47.58 256.00,48.50 C259.00,49.42 261.00,48.75 262.00,50.00 C263.00,51.25 289.83,55.00 262.00,56.00 C234.17,57.00 122.83,57.42 95.00,56.00 C67.17,54.58 91.67,50.25 95.00,47.50 Z" fill="url(#bg1)"/><line x1="174" y1="20" x2="175" y2="36" stroke="#5a6064" stroke-width="0.9" opacity="0.5"/><line x1="179" y1="20" x2="180" y2="36" stroke="#5a6064" stroke-width="0.9" opacity="0.5"/><line x1="184" y1="20" x2="185" y2="36" stroke="#5a6064" stroke-width="0.9" opacity="0.5"/><line x1="189" y1="20" x2="190" y2="36" stroke="#5a6064" stroke-width="0.9" opacity="0.5"/><line x1="194" y1="20" x2="195" y2="36" stroke="#5a6064" stroke-width="0.9" opacity="0.5"/><line x1="199" y1="20" x2="200" y2="36" stroke="#5a6064" stroke-width="0.9" opacity="0.5"/><line x1="204" y1="20" x2="205" y2="36" stroke="#5a6064" stroke-width="0.9" opacity="0.5"/><line x1="209" y1="20" x2="210" y2="36" stroke="#5a6064" stroke-width="0.9" opacity="0.5"/><line x1="214" y1="20" x2="215" y2="36" stroke="#5a6064" stroke-width="0.9" opacity="0.5"/><line x1="219" y1="20" x2="220" y2="36" stroke="#5a6064" stroke-width="0.9" opacity="0.5"/></g><path d="M213.00,41.00 C215.58,40.50 223.00,42.47 224.00,43.50 C225.00,44.53 220.25,46.12 219.00,47.20 C217.75,48.28 216.00,48.87 216.50,50.00 C217.00,51.13 221.17,52.80 222.00,54.00 C222.83,55.20 222.50,56.90 221.50,57.20 C220.50,57.50 218.00,56.80 216.00,55.80 C214.00,54.80 210.75,52.75 209.50,51.20 C208.25,49.65 207.92,48.20 208.50,46.50 C209.08,44.80 210.42,41.50 213.00,41.00 Z" fill="#aa4034"/><line x1="220.50" y1="56.00" x2="229.80" y2="57.80" stroke="#524444" stroke-width="1.3" stroke-linecap="round"/><line x1="220.50" y1="56.50" x2="230.30" y2="61.30" stroke="#524444" stroke-width="1.3" stroke-linecap="round"/><line x1="220.00" y1="57.00" x2="226.30" y2="62.80" stroke="#524444" stroke-width="1.3" stroke-linecap="round"/><line x1="219.00" y1="57.00" x2="222.00" y2="62.30" stroke="#524444" stroke-width="1.3" stroke-linecap="round"/><path d="M239.5,46.8 L246.5,47.6 L249.5,50.8 L246,52 L241,50 Z" fill="#8a3a30"/><line x1="247.00" y1="50.00" x2="254.20" y2="51.20" stroke="#524444" stroke-width="1.2" stroke-linecap="round"/><line x1="247.50" y1="50.50" x2="253.50" y2="54.30" stroke="#524444" stroke-width="1.2" stroke-linecap="round"/><line x1="246.50" y1="51.00" x2="249.50" y2="55.00" stroke="#524444" stroke-width="1.2" stroke-linecap="round"/><line x1="245.50" y1="51.00" x2="244.50" y2="53.60" stroke="#524444" stroke-width="1.2" stroke-linecap="round"/><ellipse cx="237.2" cy="32.6" rx="2.8" ry="1.4" fill="#7e3a32"/><circle cx="245.8" cy="39" r="1.05" fill="#e6e6e6"/><circle cx="255" cy="35.2" r="0.9" fill="#c8c8c8"/><path d="M414.8,30 L417,26.8 L419.8,25.0 L422,26.4 L420.8,30 Z" fill="#6a4a3c"/><line x1="419.00" y1="25.50" x2="418.20" y2="21.50" stroke="#5e4e48" stroke-width="1.2" stroke-linecap="round"/><line x1="419.50" y1="25.30" x2="422.00" y2="21.00" stroke="#5e4e48" stroke-width="1.2" stroke-linecap="round"/><line x1="420.00" y1="25.50" x2="426.00" y2="22.20" stroke="#5e4e48" stroke-width="1.2" stroke-linecap="round"/><line x1="420.00" y1="26.00" x2="426.20" y2="25.80" stroke="#5e4e48" stroke-width="1.2" stroke-linecap="round"/><path d="M416.00,39.50 C417.00,38.83 422.33,40.02 425.00,40.80 C427.67,41.58 429.75,43.03 432.00,44.20 C434.25,45.37 437.17,46.67 438.50,47.80 C439.83,48.93 440.42,50.20 440.00,51.00 C439.58,51.80 438.00,52.93 436.00,52.60 C434.00,52.27 430.83,50.30 428.00,49.00 C425.17,47.70 421.00,46.38 419.00,44.80 C417.00,43.22 415.00,40.17 416.00,39.50 Z" fill="#6a4a3c"/><line x1="437.00" y1="49.50" x2="445.80" y2="47.60" stroke="#5e4e48" stroke-width="1.2" stroke-linecap="round"/><line x1="437.50" y1="50.00" x2="446.30" y2="51.20" stroke="#5e4e48" stroke-width="1.2" stroke-linecap="round"/><line x1="437.00" y1="50.50" x2="443.50" y2="54.00" stroke="#5e4e48" stroke-width="1.2" stroke-linecap="round"/><line x1="436.00" y1="50.50" x2="438.50" y2="54.30" stroke="#5e4e48" stroke-width="1.2" stroke-linecap="round"/><defs><linearGradient id="bg2" x1="0" y1="0" x2="0" y2="1"><stop offset="0" stop-color="#55301f"/><stop offset="0.25" stop-color="#6c3d27"/><stop offset="0.75" stop-color="#703f29"/><stop offset="1" stop-color="#7e4c34"/></linearGradient></defs><path d="M332.30,49.30 C333.57,48.27 337.44,46.52 341.60,44.40 C345.76,42.28 353.08,38.48 357.25,36.60 C361.42,34.72 362.81,33.75 366.60,33.10 C370.39,32.45 375.10,32.73 380.00,32.70 C384.90,32.67 390.33,33.42 396.00,32.90 C401.67,32.38 408.00,30.42 414.00,29.60 C420.00,28.78 426.02,28.17 432.00,28.00 C437.98,27.83 445.48,28.17 449.90,28.60 C454.32,29.03 455.25,29.60 458.50,30.60 C461.75,31.60 466.27,33.90 469.40,34.60 C472.52,35.30 474.12,34.63 477.25,34.80 C480.38,34.97 485.59,34.97 488.20,35.60 C490.81,36.23 491.57,37.37 492.90,38.60 C494.23,39.83 495.95,41.80 496.20,43.00 C496.45,44.20 496.27,45.08 494.40,45.80 C492.53,46.52 487.86,47.05 485.00,47.30 C482.14,47.55 479.85,47.55 477.25,47.30 C474.65,47.05 472.01,46.45 469.40,45.80 C466.79,45.15 464.85,43.95 461.60,43.40 C458.35,42.85 454.83,42.90 449.90,42.50 C444.97,42.10 437.98,41.25 432.00,41.00 C426.02,40.75 419.33,40.73 414.00,41.00 C408.67,41.27 404.25,42.43 400.00,42.60 C395.75,42.77 393.02,42.13 388.50,42.00 C383.98,41.87 376.82,41.63 372.90,41.80 C368.98,41.97 367.61,42.28 365.00,43.00 C362.39,43.72 361.15,45.00 357.25,46.10 C353.35,47.20 345.48,48.85 341.60,49.60 C337.73,50.35 335.55,50.65 334.00,50.60 C332.45,50.55 331.03,50.33 332.30,49.30 Z" fill="url(#bg2)"/><path d="M331.8,49.5 L336,47.5 L337.5,50.3 Z" fill="#2a1c16"/><line x1="420" y1="31" x2="420.5" y2="40" stroke="#5a2e1a" stroke-width="0.6" opacity="0.3"/><line x1="425" y1="31" x2="425.5" y2="40" stroke="#5a2e1a" stroke-width="0.6" opacity="0.3"/><line x1="430" y1="31" x2="430.5" y2="40" stroke="#5a2e1a" stroke-width="0.6" opacity="0.3"/><line x1="435" y1="31" x2="435.5" y2="40" stroke="#5a2e1a" stroke-width="0.6" opacity="0.3"/><line x1="440" y1="31" x2="440.5" y2="40" stroke="#5a2e1a" stroke-width="0.6" opacity="0.3"/><line x1="445" y1="31" x2="445.5" y2="40" stroke="#5a2e1a" stroke-width="0.6" opacity="0.3"/><line x1="450" y1="31" x2="450.5" y2="40" stroke="#5a2e1a" stroke-width="0.6" opacity="0.3"/><line x1="455" y1="31" x2="455.5" y2="40" stroke="#5a2e1a" stroke-width="0.6" opacity="0.3"/><line x1="460" y1="31" x2="460.5" y2="40" stroke="#5a2e1a" stroke-width="0.6" opacity="0.3"/><path d="M455.00,43.00 C456.42,42.62 461.42,43.58 463.50,44.50 C465.58,45.42 466.58,47.17 467.50,48.50 C468.42,49.83 469.33,51.55 469.00,52.50 C468.67,53.45 467.00,54.65 465.50,54.20 C464.00,53.75 461.75,51.03 460.00,49.80 C458.25,48.57 455.83,47.93 455.00,46.80 C454.17,45.67 453.58,43.38 455.00,43.00 Z" fill="#6a4a3c"/><line x1="466.00" y1="52.00" x2="473.20" y2="51.30" stroke="#5e4e48" stroke-width="1.2" stroke-linecap="round"/><line x1="466.50" y1="52.50" x2="474.00" y2="54.50" stroke="#5e4e48" stroke-width="1.2" stroke-linecap="round"/><line x1="466.00" y1="53.00" x2="471.00" y2="57.30" stroke="#5e4e48" stroke-width="1.2" stroke-linecap="round"/><line x1="465.50" y1="53.00" x2="466.50" y2="56.80" stroke="#5e4e48" stroke-width="1.2" stroke-linecap="round"/><path d="M478.5,46.8 L484.5,47.3 L486,49.3 L483,50 L480,50 Z" fill="#5e4e48"/><line x1="484.00" y1="48.50" x2="488.20" y2="48.60" stroke="#5e4e48" stroke-width="1.1" stroke-linecap="round"/><line x1="484.00" y1="49.00" x2="487.80" y2="51.20" stroke="#5e4e48" stroke-width="1.1" stroke-linecap="round"/><line x1="483.00" y1="49.00" x2="484.00" y2="51.50" stroke="#5e4e48" stroke-width="1.1" stroke-linecap="round"/><circle cx="481.9" cy="36.6" r="0.9" fill="#d6c4b2"/><circle cx="487.4" cy="35.8" r="0.8" fill="#4a2e22"/><line x1="0" y1="255.5" x2="528" y2="255.5" stroke="#dcdcdc" stroke-width="1"/></svg></body></html>
